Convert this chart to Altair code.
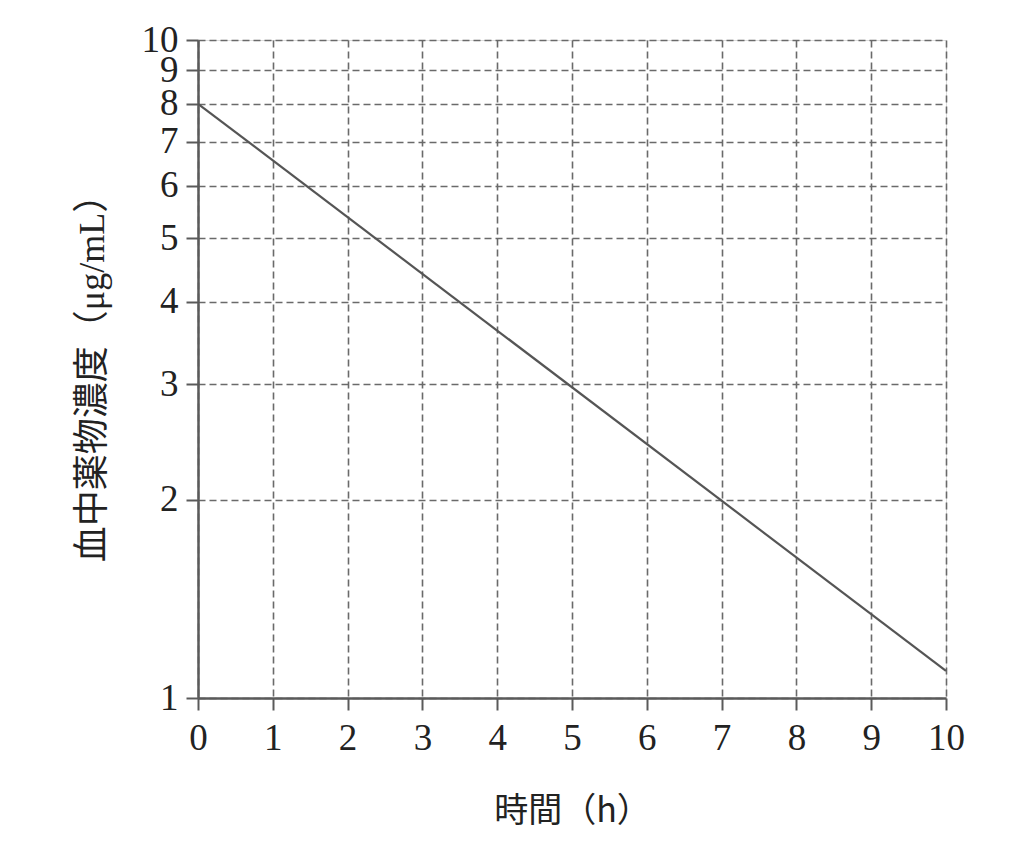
import altair as alt
import pandas as pd

# Data
time_h = [0, 10]
conc = [8.0, 1.1]
x_ticks = [0, 1, 2, 3, 4, 5, 6, 7, 8, 9, 10]
y_ticks = [1, 2, 3, 4, 5, 6, 7, 8, 9, 10]

df = pd.DataFrame({"t": time_h, "c": conc})

SERIF = "Liberation Serif, Noto Sans CJK JP"
GRID = "#6a6a6a"
AX = "#5a5a5a"

line = alt.Chart(df).mark_line(color="#555555", strokeWidth=2.2).encode(
    x=alt.X(
        "t:Q",
        scale=alt.Scale(domain=[0, 10], nice=False, zero=False),
        axis=alt.Axis(
            values=x_ticks,
            title="時間（h）",
            titleFont="Noto Sans CJK JP",
            titleFontSize=34,
            titleFontWeight="normal",
            titleColor="#222222",
            titlePadding=38,
            labelFont="Liberation Serif",
            labelFontSize=37,
            labelColor="#222222",
            labelPadding=10,
            labelFlush=False,
            labelOverlap=False,
            tickSize=12,
            tickColor=AX,
            tickWidth=2,
            domainColor=AX,
            domainWidth=2.5,
            grid=True,
            gridColor=GRID,
            gridDash=[7, 4],
            gridWidth=1.6,
            format="d",
        ),
    ),
    y=alt.Y(
        "c:Q",
        scale=alt.Scale(type="log", domain=[1, 10], nice=False),
        axis=alt.Axis(
            values=y_ticks,
            title="血中薬物濃度（μg/mL）",
            titleFont=SERIF,
            titleFontSize=36,
            titleFontWeight="normal",
            titleColor="#222222",
            titlePadding=30,
            labelFont="Liberation Serif",
            labelFontSize=37,
            labelColor="#222222",
            labelPadding=8,
            labelFlush=False,
            labelOverlap=False,
            labelBaseline="middle",
            tickSize=12,
            tickColor=AX,
            tickWidth=2,
            domainColor=AX,
            domainWidth=2.5,
            grid=True,
            gridColor=GRID,
            gridDash=[7, 4],
            gridWidth=1.6,
            format="d",
        ),
    ),
)

chart = line.properties(
    width=748,
    height=658,
    autosize=alt.AutoSizeParams(type="none"),
    padding={"left": 190, "top": 32, "right": 56, "bottom": 160},
).configure_view(stroke=GRID, strokeDash=[7, 4], strokeWidth=1.6).configure(
    background="white"
)

chart.save("out.html", embed_options={"renderer": "svg", "actions": False})
